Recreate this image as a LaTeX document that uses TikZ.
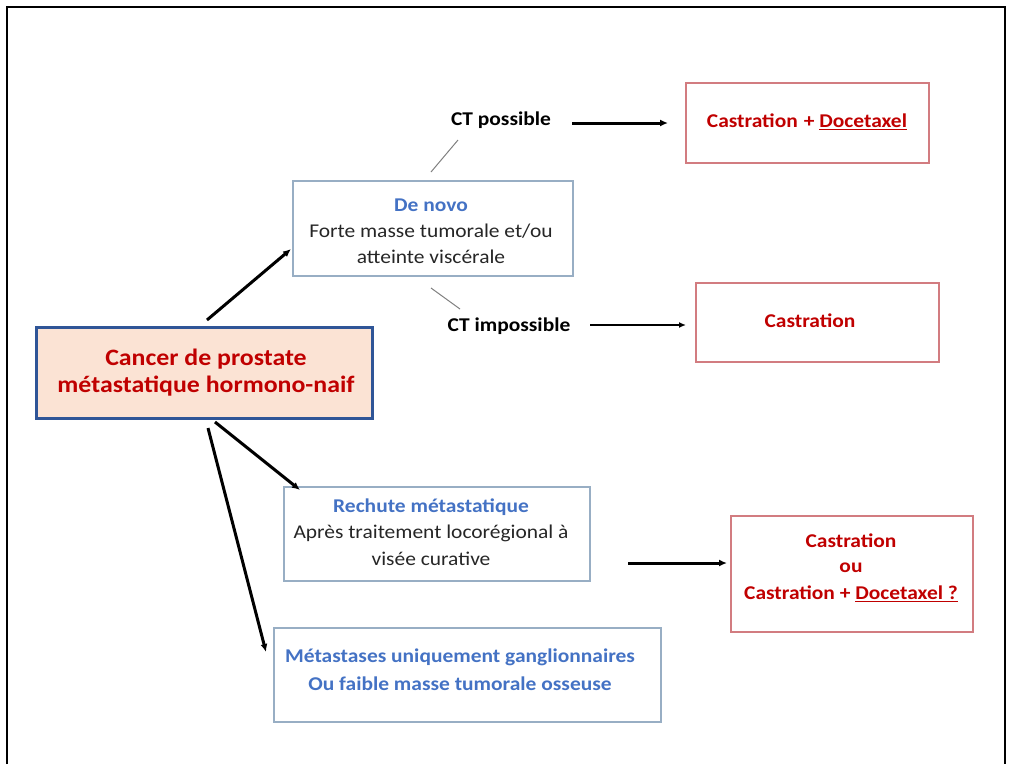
\documentclass[tikz,border=0pt]{standalone}
\usepackage{fontspec}
\setmainfont[FakeStretch=1.1]{Carlito}
\usetikzlibrary{arrows.meta}
\definecolor{tred}{HTML}{C00000}
\definecolor{tblue}{HTML}{4472C4}
\definecolor{mainfill}{HTML}{FBE3D4}
\definecolor{mainborder}{HTML}{2F5597}
\definecolor{lightborder}{HTML}{98AEC4}
\definecolor{redborder}{HTML}{D27C80}
\definecolor{tgray}{HTML}{262626}
\tikzset{
  box/.style={draw=lightborder, line width=1.2pt, inner sep=0pt},
  redbox/.style={draw=redborder, line width=1.2pt, inner sep=0pt},
  lbl/.style={font=\fontsize{19.5}{23}\selectfont\bfseries, text=black, inner sep=0pt},
  txt/.style={font=\fontsize{19.5}{23}\selectfont, text=tgray, inner sep=0pt, anchor=center},
  bluetxt/.style={font=\fontsize{19.5}{23}\selectfont\bfseries, text=tblue, inner sep=0pt},
  redtxt/.style={font=\fontsize{19.5}{23}\selectfont\bfseries, text=tred, inner sep=0pt},
  thickarrow/.style={-{Latex[length=8pt,width=7pt]}, line width=3pt, black},
  thinarrow/.style={-{Latex[length=7pt,width=6pt]}, line width=1.8pt, black},
  connector/.style={draw=gray, line width=1pt}
}
\begin{document}
\begin{tikzpicture}[x=1pt,y=-1pt]
\useasboundingbox (0,0) rectangle (1011,764);
% outer frame
\draw[line width=2.5pt, black] (7,764) -- (7,7) -- (1005,7) -- (1005,764);

% main box
\node[draw=mainborder, fill=mainfill, line width=3pt, minimum width=336pt, minimum height=91pt, inner sep=0pt] (main) at (204,372.5) {};
\node[font=\fontsize{23.5}{27}\selectfont\bfseries, text=tred, align=center] (maintext) at (206,373) {Cancer de prostate\\métastatique hormono-naif};

% de novo
\node[box, minimum width=280pt, minimum height=95pt] (denovo) at (433,228.5) {};
\node[bluetxt] (dn1) at (431,205) {De novo};
\node[txt] (dn2) at (431,231) {Forte masse tumorale et/ou};
\node[txt] (dn3) at (431,257) {atteinte viscérale};

% CT labels
\node[lbl] (ctp) at (501,120) {CT possible};
\node[lbl] (cti) at (509,326) {CT impossible};
\coordinate (c1a) at (431,172);
\coordinate (c1b) at (458,140);
\coordinate (c2a) at (431,288);
\coordinate (c2b) at (460,309);
\draw[connector] (c1a) -- (c1b);
\draw[connector] (c2a) -- (c2b);

% castration + docetaxel
\node[redbox, minimum width=243pt, minimum height=80pt] (cd) at (807.5,123) {};
\node[redtxt] (cdt) at (807,122) {Castration\hspace{6pt}+ \underline{Docetaxel}};

% castration
\node[redbox, minimum width=243pt, minimum height=79pt] (c) at (817.5,322.5) {};
\node[redtxt] (ct) at (810,321) {Castration};

% rechute
\node[box, minimum width=306pt, minimum height=94pt] (rech) at (437,534) {};
\node[bluetxt] (r1) at (431,507) {Rechute métastatique};
\node[txt] (r2) at (431,533) {Après traitement locorégional à};
\node[txt] (r3) at (431,559) {visée curative};

% castration ou
\node[redbox, minimum width=242pt, minimum height=116pt] (cou) at (852,574) {};
\node[redtxt] (co1) at (851,541) {Castration};
\node[redtxt] (co2) at (851,568) {ou};
\node[redtxt] (co3) at (851,594) {Castration + \underline{Docetaxel ?}};

% metastases
\node[box, minimum width=387pt, minimum height=94pt] (meta) at (467.5,675) {};
\node[bluetxt] (m1) at (460,657) {Métastases uniquement ganglionnaires};
\node[bluetxt] (m2) at (460,684) {Ou faible masse tumorale osseuse};

% arrows
\coordinate (a1s) at (207,320);
\coordinate (a1e) at (291,249);
\coordinate (a2s) at (215,422);
\coordinate (a2e) at (300,490);
\coordinate (a3s) at (208,428);
\coordinate (a3e) at (266,652);
\draw[thickarrow] (a1s) -- (a1e);
\draw[thickarrow] (a2s) -- (a2e);
\draw[thickarrow] (a3s) -- (a3e);

\coordinate (p1s) at (572,123);
\coordinate (p1e) at (668,123);
\draw[thickarrow] (p1s) -- (p1e);
\coordinate (p2s) at (590,325);
\coordinate (p2e) at (686,325);
\draw[thinarrow] (p2s) -- (p2e);
\coordinate (p3s) at (628,563);
\coordinate (p3e) at (727,563);
\draw[thickarrow] (p3s) -- (p3e);
\end{tikzpicture}
\end{document}
